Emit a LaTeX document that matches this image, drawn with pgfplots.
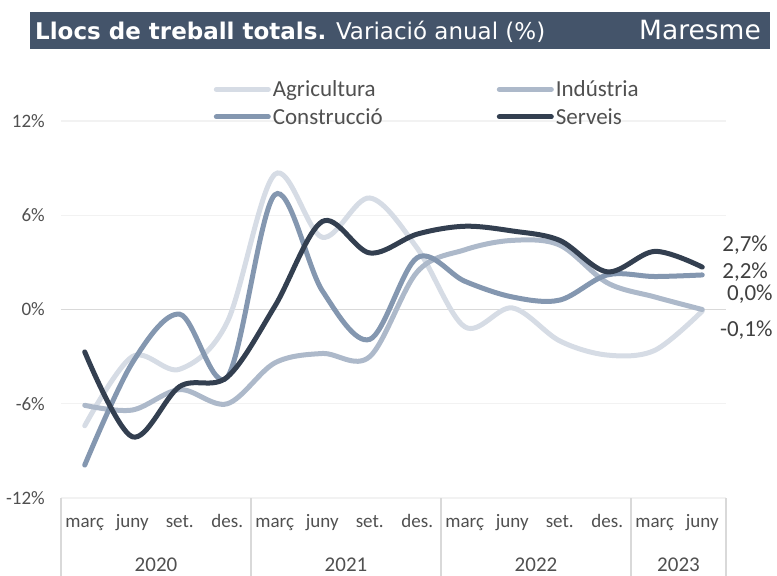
\documentclass[border=0pt]{standalone}
\usepackage{fontspec}
\setmainfont{Carlito}
\newfontfamily\titlefont{DejaVu Sans}
\usepackage{pgfplots}
\pgfplotsset{compat=1.18}
\definecolor{agri}{HTML}{D6DCE5}
\definecolor{indu}{HTML}{ADB9CA}
\definecolor{cons}{HTML}{8497B0}
\definecolor{serv}{HTML}{333F50}
\definecolor{titlebar}{HTML}{44546A}
\definecolor{txt}{HTML}{505050}
\definecolor{sep}{HTML}{D9D9D9}
\newcommand{\yl}[1]{\fontsize{19}{20}\selectfont #1}
\newcommand{\xl}[1]{\fontsize{19}{20}\selectfont #1}

\begin{document}
\begin{tikzpicture}
\useasboundingbox (0pt,0pt) rectangle (777pt,-576pt);
% title bar
\fill[titlebar] (30pt,-12pt) rectangle (770pt,-49pt);
\node[anchor=base west, text=white, inner sep=0pt,
      font=\titlefont\fontsize{23}{28}\selectfont] at (35pt,-39pt)
      {\textbf{Llocs de treball totals.} Variació anual (\%)};
\node[anchor=base east, text=white, inner sep=0pt,
      font=\titlefont\fontsize{26.5}{28}\selectfont] at (761pt,-39pt) {Maresme};

\begin{axis}[
    at={(61pt,-498pt)}, anchor=south west,
    scale only axis, width=665pt, height=377pt,
    xmin=0.5, xmax=14.5, ymin=-12, ymax=12,
    clip=false,
    axis line style={draw=none},
    major tick length=0pt,
    ytick={-12,-6,0,6,12},
    yticklabels={\yl{-12\%},\yl{-6\%},\yl{0\%},\yl{6\%},\yl{12\%}},
    yticklabel style={text=txt, anchor=east, inner sep=0pt, xshift=-16pt},
    xtick={1,...,14},
    xticklabels={\xl{març},\xl{juny},\xl{set.},\xl{des.},\xl{març},\xl{juny},\xl{set.},\xl{des.},
                 \xl{març},\xl{juny},\xl{set.},\xl{des.},\xl{març},\xl{juny}},
    xticklabel style={text=txt, anchor=base, inner sep=0pt, yshift=-29pt},
    ymajorgrids,
    major grid style={color=black!5, line width=1.2pt},
    extra y ticks={0}, extra y tick labels={},
    extra y tick style={grid=major, major grid style={color=sep, line width=1.6pt}},
    every axis plot/.append style={line width=5pt, line cap=round, smooth, tension=0.55},
    legend columns=2,
    legend cell align=left,
    legend image code/.code={\draw[#1, line cap=round] (0pt,0pt) -- (52pt,0pt);},
    legend style={at={(axis description cs:0.225,1.118)}, anchor=north west,
                  draw=none, fill=none, font=\fontsize{23}{25}\selectfont,
                  text=txt, row sep=6pt},
]
\addplot[agri] coordinates {
 (1,-7.4) (2,-3.0) (3,-3.8) (4,-0.8) (5,8.6) (6,4.6) (7,7.1)
 (8,3.9) (9,-1.1) (10,0.1) (11,-2.0) (12,-2.9) (13,-2.6) (14,-0.1)};
\addlegendentry{\makebox[222pt][l]{Agricultura}}
\addplot[indu] coordinates {
 (1,-6.1) (2,-6.4) (3,-5.1) (4,-6.0) (5,-3.4) (6,-2.8) (7,-3.0)
 (8,2.4) (9,3.8) (10,4.4) (11,4.1) (12,1.7) (13,0.8) (14,0.0)};
\addlegendentry{Indústria}
\addplot[cons] coordinates {
 (1,-9.9) (2,-3.4) (3,-0.3) (4,-4.3) (5,7.3) (6,1.2) (7,-1.9)
 (8,3.3) (9,1.8) (10,0.8) (11,0.6) (12,2.2) (13,2.1) (14,2.2)};
\addlegendentry{\makebox[222pt][l]{Construcció}}
\addplot[serv] coordinates {
 (1,-2.7) (2,-8.1) (3,-4.9) (4,-4.3) (5,0.2) (6,5.6) (7,3.6)
 (8,4.8) (9,5.3) (10,5.0) (11,4.4) (12,2.4) (13,3.7) (14,2.7)};
\addlegendentry{Serveis}

% end labels
\begin{scope}[every node/.style={anchor=west, inner sep=0pt, text=black!75,
              font=\fontsize{23}{25}\selectfont}]
\node at (axis cs:14.42,4.07) {2,7\%};
\node at (axis cs:14.42,2.36) {2,2\%};
\node at (axis cs:14.52,0.96) {0,0\%};
\node at (axis cs:14.37,-1.34) {-0,1\%};
\end{scope}

% year separators and labels
\pgfplotsinvokeforeach{0.5,4.5,8.5,12.5,14.5}{
  \draw[sep, line width=1.2pt] (axis cs:#1,-12) -- ++(0pt,-80pt);
}
\begin{scope}[every node/.style={anchor=base, inner sep=0pt, text=txt,
              font=\fontsize{21}{24}\selectfont}]
\node at ([yshift=-73pt]axis cs:2.5,-12) {2020};
\node at ([yshift=-73pt]axis cs:6.5,-12) {2021};
\node at ([yshift=-73pt]axis cs:10.5,-12) {2022};
\node at ([yshift=-73pt]axis cs:13.5,-12) {2023};
\end{scope}
\end{axis}
\end{tikzpicture}
\end{document}
